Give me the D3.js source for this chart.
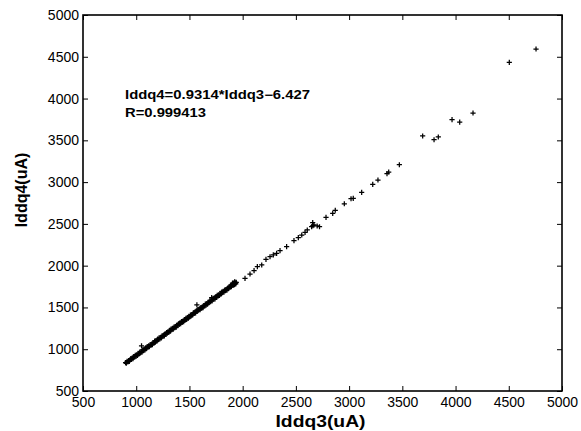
<!DOCTYPE html>
<html>
<head>
<meta charset="utf-8">
<script src="https://cdn.jsdelivr.net/npm/d3@7"></script>
<style>
  html, body { margin: 0; padding: 0; background: #fff; }
  svg { display: block; }
  text { font-family: "Liberation Sans", Arial, Helvetica, sans-serif; fill: #000; }
</style>
</head>
<body>
<svg id="chart" width="581" height="431"></svg>
<script>
// ---- data (Iddq3, Iddq4) in uA ----
const xTicks = [500, 1000, 1500, 2000, 2500, 3000, 3500, 4000, 4500, 5000];
const yTicks = [500, 1000, 1500, 2000, 2500, 3000, 3500, 4000, 4500, 5000];
const xLabel = "Iddq3(uA)";
const yLabel = "Iddq4(uA)";
const fitText = "Iddq4=0.9314*Iddq3\u22126.427";
const rText = "R=0.999413";

// dense band of measurements
const bandPoints = [
  [900,840],[907,832],[914,854],[921,847],[928,865],[935,855],[942,874],[949,888],[956,877],[963,896],
  [970,887],[977,912],[984,907],[991,928],[998,915],[1005,934],[1012,925],[1019,950],[1026,944],[1033,966],
  [1040,955],[1047,972],[1054,966],[1061,991],[1068,984],[1075,1001],[1082,991],[1089,1016],[1096,1008],[1103,1032],
  [1110,1024],[1117,1039],[1124,1032],[1131,1056],[1138,1048],[1145,1062],[1152,1056],[1159,1080],[1166,1076],[1173,1096],
  [1180,1085],[1187,1103],[1194,1096],[1201,1120],[1208,1114],[1215,1136],[1222,1125],[1229,1141],[1236,1136],[1243,1160],
  [1250,1155],[1257,1170],[1264,1160],[1271,1184],[1278,1178],[1285,1200],[1292,1193],[1299,1208],[1306,1200],[1313,1225],
  [1320,1216],[1327,1242],[1334,1233],[1341,1249],[1348,1240],[1355,1265],[1362,1257],[1369,1272],[1376,1264],[1383,1290],
  [1390,1282],[1397,1305],[1404,1297],[1411,1314],[1418,1305],[1425,1332],[1432,1320],[1439,1338],[1446,1330],[1453,1355],
  [1460,1350],[1467,1369],[1474,1358],[1481,1378],[1488,1369],[1495,1393],[1502,1388],[1509,1409],[1516,1399],[1523,1415],
  [1530,1410],[1537,1434],[1544,1428],[1551,1444],[1558,1435],[1565,1459],[1572,1452],[1579,1475],[1586,1468],[1593,1482],
  [1600,1475],[1607,1499],[1614,1491],[1621,1506],[1628,1499],[1635,1523],[1642,1519],[1649,1540],[1656,1528],[1663,1547],
  [1670,1539],[1677,1564],[1684,1557],[1691,1580],[1698,1568],[1705,1585],[1712,1579],[1719,1604],[1726,1598],[1733,1614],
  [1740,1603],[1747,1628],[1754,1621],[1761,1644],[1768,1636],[1775,1652],[1782,1643],[1789,1668],[1796,1659],[1803,1685],
  [1810,1676],[1817,1692],[1824,1683],[1831,1708],[1838,1700],[1845,1715],[1852,1708],[1859,1733],[1866,1726],[1873,1748],
  [1880,1741],[1887,1757],[1894,1749],[1901,1775],[1905,1790],[1908,1764],[1912,1789],[1915,1781],[1918,1770],[1920,1795],
  [1922,1776],[1925,1805],[1926,1800],[1929,1795],[1930,1785],[1935,1782],[1940,1800]
];

// isolated points off the band
const outlierPoints = [[1050,1040],[1570,1530],[1709,1617]];

// sparse upper tail
const tailPoints = [
  [2022,1849],[2069,1900],[2107,1940],[2138,1988],[2179,2008],[2219,2076],[2257,2107],[2288,2128],[2319,2148],[2351,2179],
  [2413,2227],[2482,2299],[2523,2335],[2555,2367],[2586,2399],[2607,2427],[2648,2466],[2658,2514],[2670,2487],[2660,2480],
  [2700,2475],[2722,2466],[2783,2579],[2846,2627],[2870,2663],[2955,2741],[3018,2801],[3039,2806],[3118,2878],[3222,2974],
  [3271,3025],[3356,3101],[3372,3121],[3472,3208],[3691,3552],[3798,3507],[3838,3540],[3967,3747],[4039,3719],[4164,3827],
  [4505,4434],[4756,4593]
];

// ---- drawing ----
const svg = d3.select("#chart");
svg.append("rect").attr("width", 581).attr("height", 431).attr("fill", "#fff");

const mLeft = 83, mRight = 562, mTop = 15, mBottom = 391;
const x = d3.scaleLinear().domain([500, 5000]).range([mLeft, mRight]);
const y = d3.scaleLinear().domain([500, 5000]).range([mBottom, mTop]);

const tickLen = 5;
const axisStyle = g => {
  g.select(".domain").remove();
  g.selectAll(".tick line").attr("stroke", "#000").attr("stroke-width", 1);
  g.selectAll(".tick text").attr("font-size", "14px").attr("fill", "#000");
};

// bottom
svg.append("g").attr("transform", `translate(0,${mBottom})`)
  .call(d3.axisBottom(x).tickValues(xTicks).tickFormat(d3.format("d")).tickSizeInner(-tickLen).tickSizeOuter(0).tickPadding(6))
  .call(axisStyle);
// left
svg.append("g").attr("transform", `translate(${mLeft},0)`)
  .call(d3.axisLeft(y).tickValues(yTicks).tickFormat(d3.format("d")).tickSizeInner(-tickLen).tickSizeOuter(0).tickPadding(4))
  .call(axisStyle);
// top (ticks only)
svg.append("g").attr("transform", `translate(0,${mTop})`)
  .call(d3.axisTop(x).tickValues(xTicks).tickFormat("").tickSizeInner(-tickLen).tickSizeOuter(0))
  .call(axisStyle);
// right (ticks only)
svg.append("g").attr("transform", `translate(${mRight},0)`)
  .call(d3.axisRight(y).tickValues(yTicks).tickFormat("").tickSizeInner(-tickLen).tickSizeOuter(0))
  .call(axisStyle);

// box
svg.append("rect")
  .attr("x", mLeft).attr("y", mTop)
  .attr("width", mRight - mLeft).attr("height", mBottom - mTop)
  .attr("fill", "none").attr("stroke", "#000").attr("stroke-width", 1.6);

// markers
const plus = "M-2.6,0H2.6M0,-2.6V2.6";
const allPoints = bandPoints.concat(outlierPoints, tailPoints);
svg.append("g").selectAll("path")
  .data(allPoints)
  .join("path")
  .attr("transform", d => `translate(${x(d[0])},${y(d[1])})`)
  .attr("d", plus)
  .attr("stroke", "#000")
  .attr("stroke-width", 1.25)
  .attr("fill", "none");

// annotation
svg.append("text").attr("x", 125).attr("y", 99)
  .attr("font-size", "12px").attr("font-weight", "bold")
  .attr("textLength", 185).attr("lengthAdjust", "spacingAndGlyphs")
  .text(fitText);
svg.append("text").attr("x", 125).attr("y", 117)
  .attr("font-size", "12px").attr("font-weight", "bold")
  .attr("textLength", 81).attr("lengthAdjust", "spacingAndGlyphs")
  .text(rText);

// axis labels
svg.append("text")
  .attr("x", (mLeft + mRight) / 2 - 2).attr("y", 426.5)
  .attr("text-anchor", "middle")
  .attr("font-size", "17px").attr("font-weight", "bold")
  .attr("textLength", 90).attr("lengthAdjust", "spacingAndGlyphs")
  .text(xLabel);
svg.append("text")
  .attr("transform", "translate(27,190) rotate(-90)")
  .attr("text-anchor", "middle")
  .attr("font-size", "16px").attr("font-weight", "bold")
  .text(yLabel);
</script>
</body>
</html>
